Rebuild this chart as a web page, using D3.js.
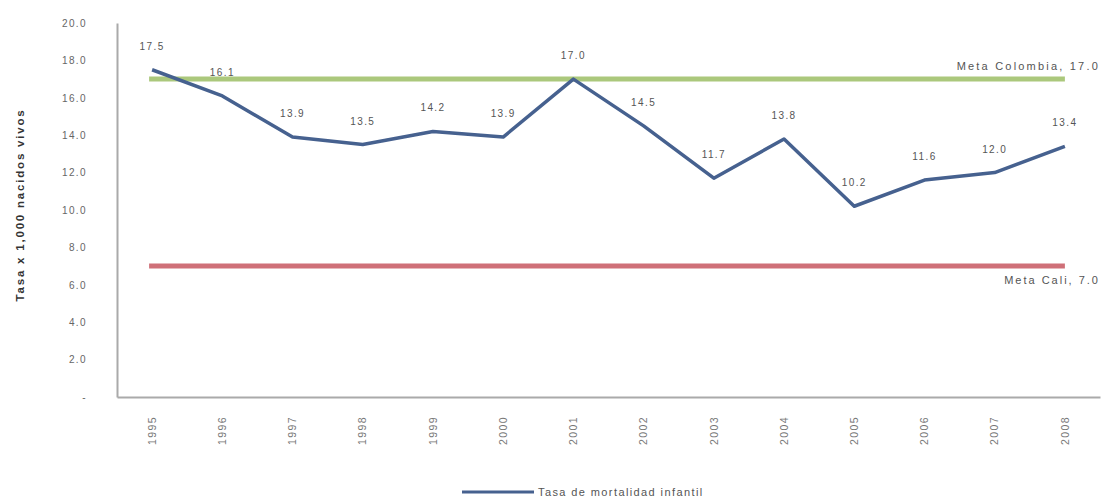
<!DOCTYPE html>
<html>
<head>
<meta charset="utf-8">
<script src="https://cdn.jsdelivr.net/npm/d3@7"></script>
<style>
body { margin: 0; background: #fff; }
svg text { font-family: "Liberation Sans", Arial, sans-serif; fill: #555; letter-spacing: 1.4px; }
</style>
</head>
<body>
<svg id="chart"></svg>
<script>
var years = ["1995","1996","1997","1998","1999","2000","2001","2002","2003","2004","2005","2006","2007","2008"]
var tasa = [17.5,16.1,13.9,13.5,14.2,13.9,17.0,14.5,11.7,13.8,10.2,11.6,12.0,13.4]
var metaColombia = 17.0
var metaCali = 7.0
var yTicks = [0,2,4,6,8,10,12,14,16,18,20]

var screen = {width:1102,height:502}
var margins = {left:117,right:2,top:23,bottom:105}
var graph = {
    width:screen.width-margins.left-margins.right,
    height:screen.height-margins.top-margins.bottom
}

var svg = d3.select("#chart")
    .attr("width",screen.width)
    .attr("height",screen.height)

var xScale = d3.scaleBand()
    .domain(years)
    .range([0,graph.width])

var yScale = d3.scaleLinear()
    .domain([0,20])
    .range([graph.height,0])

var g = svg.append("g")
    .attr("transform","translate("+margins.left+","+margins.top+")")

var xc = function(y) { return xScale(y)+xScale.bandwidth()/2 }

// axes
var yAxis = d3.axisLeft(yScale)
    .tickValues(yTicks)
    .tickSize(0)
    .tickPadding(30)
    .tickFormat(function(d){ return d==0 ? "-" : d3.format(".1f")(d) })
g.append("g").call(yAxis)
    .call(function(a){
        a.select(".domain").attr("stroke","#aaa").attr("stroke-width",2)
        a.selectAll("text").attr("font-size",10).style("fill","#666")
    })

var xAxis = d3.axisBottom(xScale).tickSize(0).tickPadding(0)
g.append("g")
    .attr("transform","translate(0,"+graph.height+")")
    .call(xAxis)
    .call(function(a){
        a.select(".domain").attr("stroke","#aaa").attr("stroke-width",2)
        a.selectAll("text")
            .attr("font-size",10.5)
            .style("fill","#777")
            .attr("text-anchor","end")
            .attr("dy","0.35em")
            .attr("transform","translate(0,19) rotate(-90)")
            .attr("x",0).attr("y",0)
    })

// meta lines
var x0 = xc(years[0])-3
var x1 = xc(years[years.length-1])
g.append("line")
    .attr("x1",x0).attr("x2",x1)
    .attr("y1",yScale(metaColombia)).attr("y2",yScale(metaColombia))
    .attr("stroke","#abc87c").attr("stroke-width",5)
g.append("line")
    .attr("x1",x0).attr("x2",x1)
    .attr("y1",yScale(metaCali)).attr("y2",yScale(metaCali))
    .attr("stroke","#cf7078").attr("stroke-width",5)

g.append("text")
    .text("Meta Colombia,  17.0")
    .attr("x",graph.width)
    .attr("y",yScale(metaColombia)-9)
    .attr("text-anchor","end")
    .attr("font-size",11)
    .style("letter-spacing","2.2px")
g.append("text")
    .text("Meta Cali,  7.0")
    .attr("x",graph.width)
    .attr("y",yScale(metaCali)+18)
    .attr("text-anchor","end")
    .attr("font-size",11)
    .style("letter-spacing","2px")

// series
var line = d3.line()
    .x(function(d,i){ return xc(years[i]) })
    .y(function(d){ return yScale(d) })
g.append("path")
    .datum(tasa)
    .attr("d",line)
    .attr("fill","none")
    .attr("stroke","#46618f")
    .attr("stroke-width",3.5)
    .attr("stroke-linejoin","round")

g.selectAll(".lbl")
    .data(tasa)
    .enter()
    .append("text")
    .attr("class","lbl")
    .text(function(d){ return d3.format(".1f")(d) })
    .attr("x",function(d,i){ return xc(years[i]) })
    .attr("y",function(d,i){ return yScale(d)-20 })
    .attr("text-anchor","middle")
    .attr("font-size",10)

// y label
svg.append("text")
    .text("Tasa x 1,000 nacidos vivos")
    .attr("transform","translate(24,205) rotate(-90)")
    .attr("text-anchor","middle")
    .attr("font-size",11.5)
    .style("fill","#333")
    .style("letter-spacing","1.8px")
    .attr("font-weight","bold")

// legend
svg.append("line")
    .attr("x1",462).attr("x2",534)
    .attr("y1",492).attr("y2",492)
    .attr("stroke","#46618f").attr("stroke-width",3)
svg.append("text")
    .text("Tasa de mortalidad infantil")
    .attr("x",538).attr("y",496)
    .attr("font-size",11)
</script>
</body>
</html>
